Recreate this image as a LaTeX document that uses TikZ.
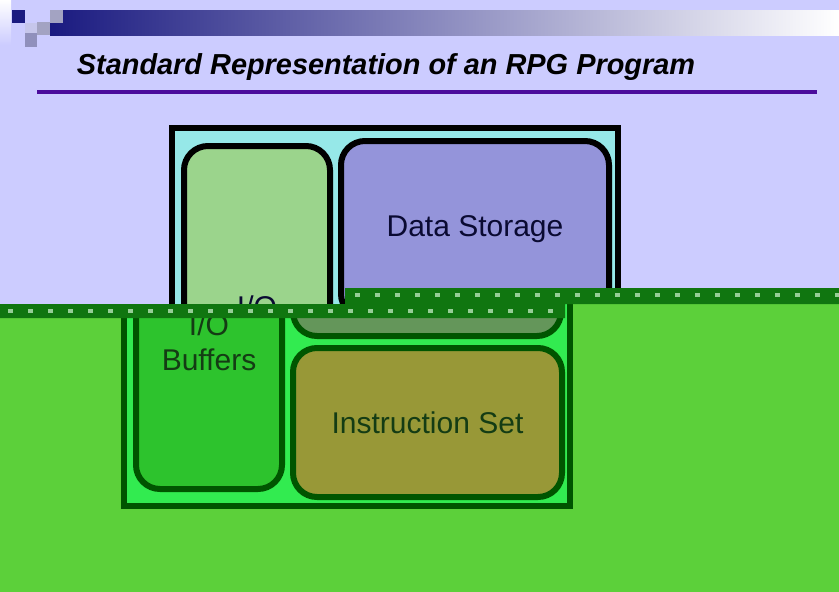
\documentclass[tikz,border=0pt]{standalone}
\usepackage{fontspec}
\setmainfont{Liberation Sans}
\definecolor{lavbg}{RGB}{204,204,255}
\definecolor{grnbg}{RGB}{92,208,58}
\definecolor{bandgr}{RGB}{16,118,16}
\definecolor{banddot}{RGB}{150,205,150}
\definecolor{navybar}{RGB}{26,26,128}
\definecolor{rulepurple}{RGB}{75,12,156}
\begin{document}
\begin{tikzpicture}[x=1pt,y=-1pt]
	\tikzset{
		every node/.style={inner sep=0pt},
		% khung ngoai
		shell/.style={draw=rimc,line width=6pt,fill=shellc},
		% o bo tron
		box/.style={draw=rimc,line width=6pt,rounded corners=24pt,text=textc,font=\fontsize{30}{35}\selectfont},
		% chuong trinh RPG
		rpgprog/.pic={
			\node[shell,minimum width=446pt,minimum height=360pt] (-shell) at (395,308) {};
			\node[box,fill=ioc,minimum width=146pt,minimum height=325pt] (-io) at (257,308.5) {};
			\node[box,fill=datac,minimum width=268pt,minimum height=177pt] (-data) at (475,229.5) {\dstext};
			\node[box,fill=instc,minimum width=269pt,minimum height=149pt] (-inst) at (475.5,404.5) {\istext};
			\node[text=textc,font=\fontsize{30}{35}\selectfont,align=center,anchor=north] (-iotext) at (257,296) {\iotext};
		},
	}
	\useasboundingbox (0,0) rectangle (839,592);
	%
	% phan tren
	\begin{scope}
		\clip (0,0)--(839,0)--(839,288)--(345,288)--(345,304)--(0,304)--cycle;
		\fill[lavbg] (0,0) rectangle (839,304);
		\shade[top color=white,bottom color=lavbg] (0,0) rectangle (11,45);
		\shade[left color=navybar,right color=white] (50,10) rectangle (839,35);
		\fill[navybar] (12,10) rectangle (25,23);
		\fill[black!10!lavbg!80!white] (25,23) rectangle (37,33);
		\fill[blue!20!gray!60] (37,22) rectangle (50,35);
		\fill[blue!25!gray!70] (25,33) rectangle (37,47);
		\fill[blue!20!gray!60] (50,10) rectangle (63,23);
		\node[font=\fontsize{28.9}{32}\selectfont\bfseries\itshape,anchor=base] (title) at (386,74) {Standard Representation of an RPG Program};
		\draw[rulepurple,line width=3.5pt] (37,92)--(817,92);
		\definecolor{rimc}{RGB}{0,0,0}
		\definecolor{shellc}{RGB}{150,232,232}
		\definecolor{ioc}{RGB}{155,212,140}
		\definecolor{datac}{RGB}{148,148,218}
		\definecolor{instc}{RGB}{148,148,218}
		\definecolor{textc}{RGB}{10,10,50}
		\def\dstext{Data Storage}
		\def\istext{}
		\def\iotext{I/O}
		\pic (up) at (0,0) {rpgprog};
	\end{scope}
	%
	% phan duoi
	\begin{scope}
		\clip (0,318)--(565,318)--(565,304)--(839,304)--(839,592)--(0,592)--cycle;
		\fill[grnbg] (0,300) rectangle (839,592);
		\definecolor{rimc}{RGB}{0,85,0}
		\definecolor{shellc}{RGB}{50,235,80}
		\definecolor{ioc}{RGB}{45,195,45}
		\definecolor{datac}{RGB}{100,150,90}
		\definecolor{instc}{RGB}{152,152,55}
		\definecolor{textc}{RGB}{20,60,20}
		\def\dstext{}
		\def\istext{Instruction Set}
		\def\iotext{I/O\\Buffers}
		\pic (lo) at (-48,18) {rpgprog};
	\end{scope}
	%
	% dai loi
	\fill[bandgr] (345,288)--(839,288)--(839,304)--(565,304)--(565,318)--(0,318)--(0,304)--(345,304)--cycle;
	\foreach \x in {355,375,...,835}
		\fill[banddot] (\x,293) rectangle ++(5,4);
	\foreach \x in {8,28,...,548}
		\fill[banddot] (\x,309) rectangle ++(5,4);
\end{tikzpicture}
\end{document}
